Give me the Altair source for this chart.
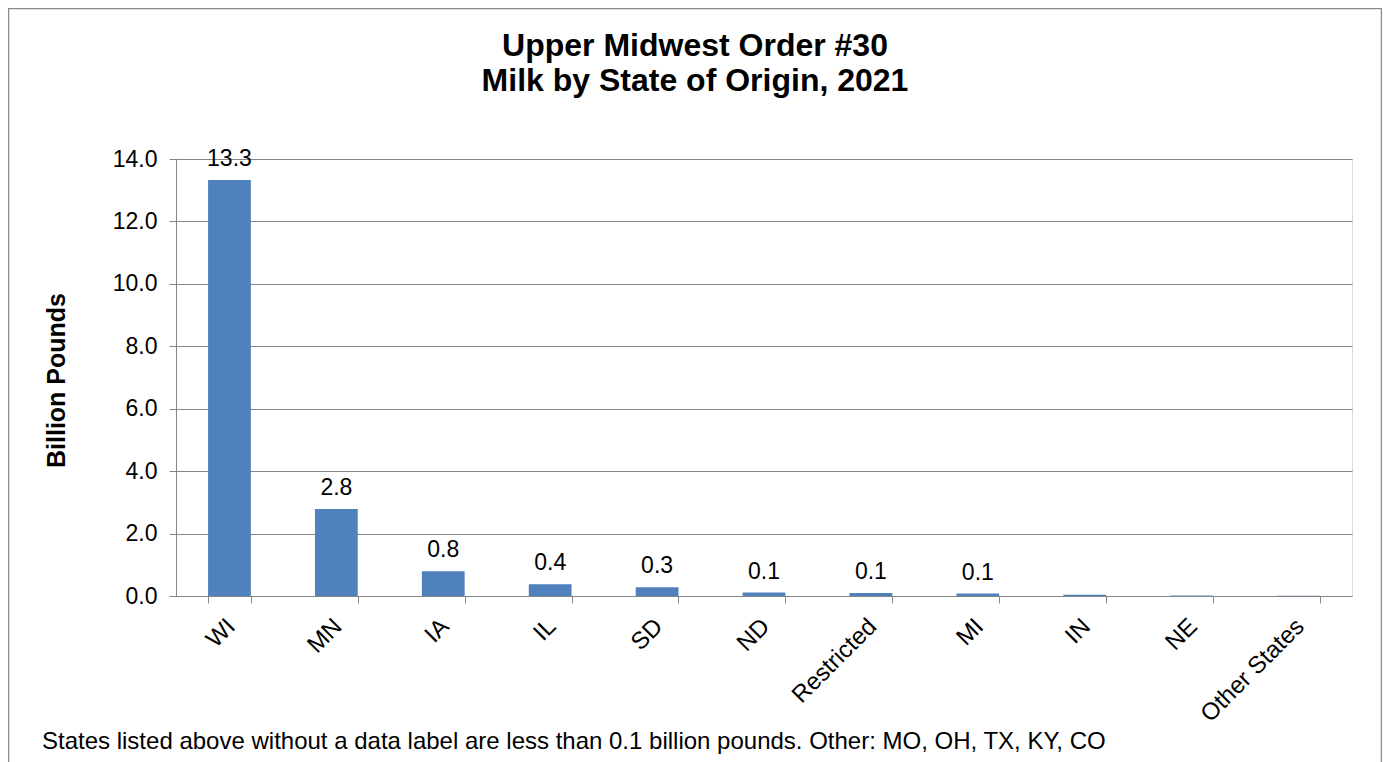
import altair as alt
import pandas as pd

states = ["WI", "MN", "IA", "IL", "SD", "ND", "Restricted", "MI", "IN", "NE", "Other States"]
values = [13.33, 2.79, 0.79, 0.38, 0.28, 0.11, 0.10, 0.08, 0.04, 0.02, 0.005]
labels = ["13.3", "2.8", "0.8", "0.4", "0.3", "0.1", "0.1", "0.1", "", "", ""]
y_ticks = [0, 2, 4, 6, 8, 10, 12, 14]
title_lines = ["Upper Midwest Order #30", "Milk by State of Origin, 2021"]
footnote = "States listed above without a data label are less than 0.1 billion pounds. Other: MO, OH, TX, KY, CO"

FONT = "Liberation Sans"
GRAY = "#868686"

df = pd.DataFrame({"state": states, "value": values, "label": labels})

W, H = 1176, 437

x_enc = alt.X(
    "state:N",
    sort=states,
    scale=alt.Scale(paddingInner=0.6, paddingOuter=0.3),
    axis=alt.Axis(
        title=None,
        labelAngle=-45,
        labelFontSize=24,
        labelFont=FONT,
        labelColor="black",
        tickBand="extent",
        tickSize=7,
        tickColor=GRAY,
        domainColor=GRAY,
        labelPadding=11,
        labelOffset=-7,
        grid=False,
    ),
)
y_enc = alt.Y(
    "value:Q",
    scale=alt.Scale(domain=[0, 14], nice=False),
    axis=alt.Axis(
        title="Billion Pounds",
        values=y_ticks,
        format=".1f",
        labelFontSize=23,
        labelFont=FONT,
        labelColor="black",
        tickSize=7,
        tickColor=GRAY,
        domainColor=GRAY,
        gridColor=GRAY,
        gridWidth=1,
        labelPadding=12,
        titleFont=FONT,
        titleFontSize=25,
        titleFontWeight="bold",
        titleColor="black",
        titleX=-120,
        titleY=221,
        titleAngle=-90,
        titleAlign="center",
        titleBaseline="middle",
    ),
)

bars = alt.Chart(df).mark_bar(color="#4F81BD").encode(x=x_enc, y=y_enc)

text = alt.Chart(df).mark_text(
    font=FONT, fontSize=23, color="black", baseline="alphabetic", dy=-14
).encode(x=alt.X("state:N", sort=states), y="value:Q", text="label:N")

frame = alt.Chart(pd.DataFrame({"a": [0]})).mark_rect(
    fill=None, stroke="#8a8a8a", strokeWidth=1.5
).encode(
    x=alt.value(-167.5), x2=alt.value(1205.5), y=alt.value(-150.5), y2=alt.value(700)
)

foot = alt.Chart(pd.DataFrame({"t": [footnote]})).mark_text(
    font=FONT, fontSize=24, color="black", align="left", baseline="alphabetic"
).encode(x=alt.value(-134), y=alt.value(590), text="t:N")

chart = alt.layer(frame, bars, text, foot).properties(
    width=W,
    height=H,
    title=alt.TitleParams(
        text=title_lines,
        font=FONT,
        fontSize=32,
        fontWeight="bold",
        color="black",
        anchor="middle",
        dx=-69,
        lineHeight=35,
        offset=-90,
    ),
    autosize=alt.AutoSizeParams(type="none"),
    padding={"left": 168, "top": 151, "right": 30, "bottom": 166},
).configure_view(stroke=None).configure(background="white")

chart.save("out.html", embed_options={"renderer": "svg", "actions": False})
